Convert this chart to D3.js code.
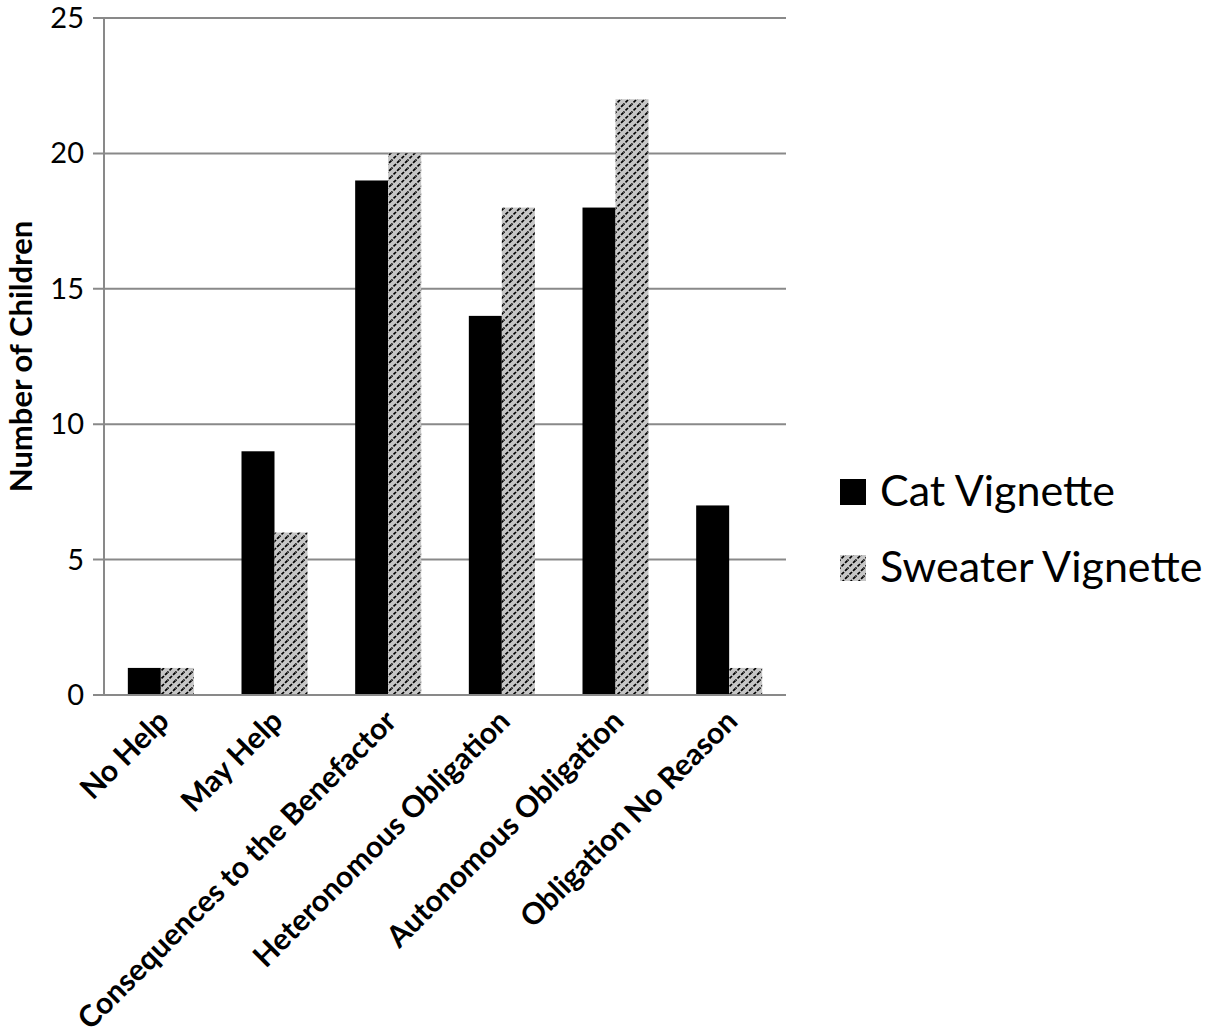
<!DOCTYPE html>
<html><head><meta charset="utf-8">
<script src="https://cdn.jsdelivr.net/npm/d3@7"></script>
<style>body{margin:0;background:#fff}</style>
</head><body>
<script>
const categories = ["No Help","May Help","Consequences to the Benefactor","Heteronomous Obligation","Autonomous Obligation","Obligation No Reason"];
const seriesNames = ["Cat Vignette","Sweater Vignette"];
const catValues = [1,9,19,14,18,7];
const sweaterValues = [1,6,20,18,22,1];
const yTicks = [0,5,10,15,20,25];

(function(){
const W=1207,H=1035;
const svg=d3.select("body").append("svg").attr("width",W).attr("height",H);
const defs=svg.append("defs");
const pat=defs.append("pattern").attr("id","hatch").attr("patternUnits","userSpaceOnUse")
  .attr("width",8).attr("height",8);
pat.append("rect").attr("width",8).attr("height",8).attr("fill","#c6c6c6");
pat.append("path").attr("d","M-2,10 L10,-2 M-2,2 L2,-2 M6,10 L10,6").attr("stroke","#000").attr("stroke-width",1.7).attr("stroke-dasharray","3.5,1.5");

const pl=104,pr=786,pt=18,pb=695;
const x=d3.scaleBand().domain(categories).range([pl,pr]);
const y=d3.scaleLinear().domain([0,25]).range([pb,pt]);
const bw=33;
const font="Lato, 'Open Sans', sans-serif";

svg.append("g").selectAll("line").data(yTicks).join("line")
  .attr("x1",pl-11).attr("x2",pr).attr("y1",d=>y(d)).attr("y2",d=>y(d))
  .attr("stroke","#898989").attr("stroke-width",2);
svg.append("line").attr("x1",pl).attr("x2",pl).attr("y1",pt).attr("y2",pb)
  .attr("stroke","#898989").attr("stroke-width",2);
svg.append("g").selectAll("text").data(yTicks).join("text")
  .attr("x",pl-20).attr("y",d=>y(d)+10).attr("text-anchor","end")
  .attr("font-family",font).attr("font-size",29).text(d=>d);

const cx=c=>x(c)+x.bandwidth()/2;
svg.append("g").selectAll("rect").data(categories).join("rect")
  .attr("x",c=>cx(c)-bw).attr("width",bw)
  .attr("y",(c,i)=>y(catValues[i])).attr("height",(c,i)=>y(0)-y(catValues[i])).attr("fill","#000");
svg.append("g").selectAll("rect").data(categories).join("rect")
  .attr("x",c=>cx(c)).attr("width",bw)
  .attr("y",(c,i)=>y(sweaterValues[i])).attr("height",(c,i)=>y(0)-y(sweaterValues[i])).attr("fill","url(#hatch)");
svg.append("line").attr("x1",pl).attr("x2",pr).attr("y1",y(0)).attr("y2",y(0))
  .attr("stroke","#898989").attr("stroke-width",2);

svg.append("g").selectAll("text").data(categories).join("text")
  .attr("transform",c=>`translate(${cx(c)+10},${pb+28}) rotate(-45)`)
  .attr("text-anchor","end").attr("font-family",font)
  .attr("font-weight","bold").attr("font-size",30).text(c=>c);

svg.append("text").attr("transform",`translate(32,${(pt+pb)/2}) rotate(-90)`)
  .attr("text-anchor","middle").attr("font-family",font)
  .attr("font-weight","bold").attr("font-size",31).text("Number of Children");

const lg=svg.append("g");
seriesNames.forEach((s,i)=>{
  const yy=479+i*76;
  lg.append("rect").attr("x",840).attr("y",yy).attr("width",26).attr("height",26)
    .attr("fill",i===0?"#000":"url(#hatch)");
  lg.append("text").attr("x",880).attr("y",yy+27).attr("font-family",font)
    .attr("font-size",43).text(s);
});
})();
</script>
</body></html>
